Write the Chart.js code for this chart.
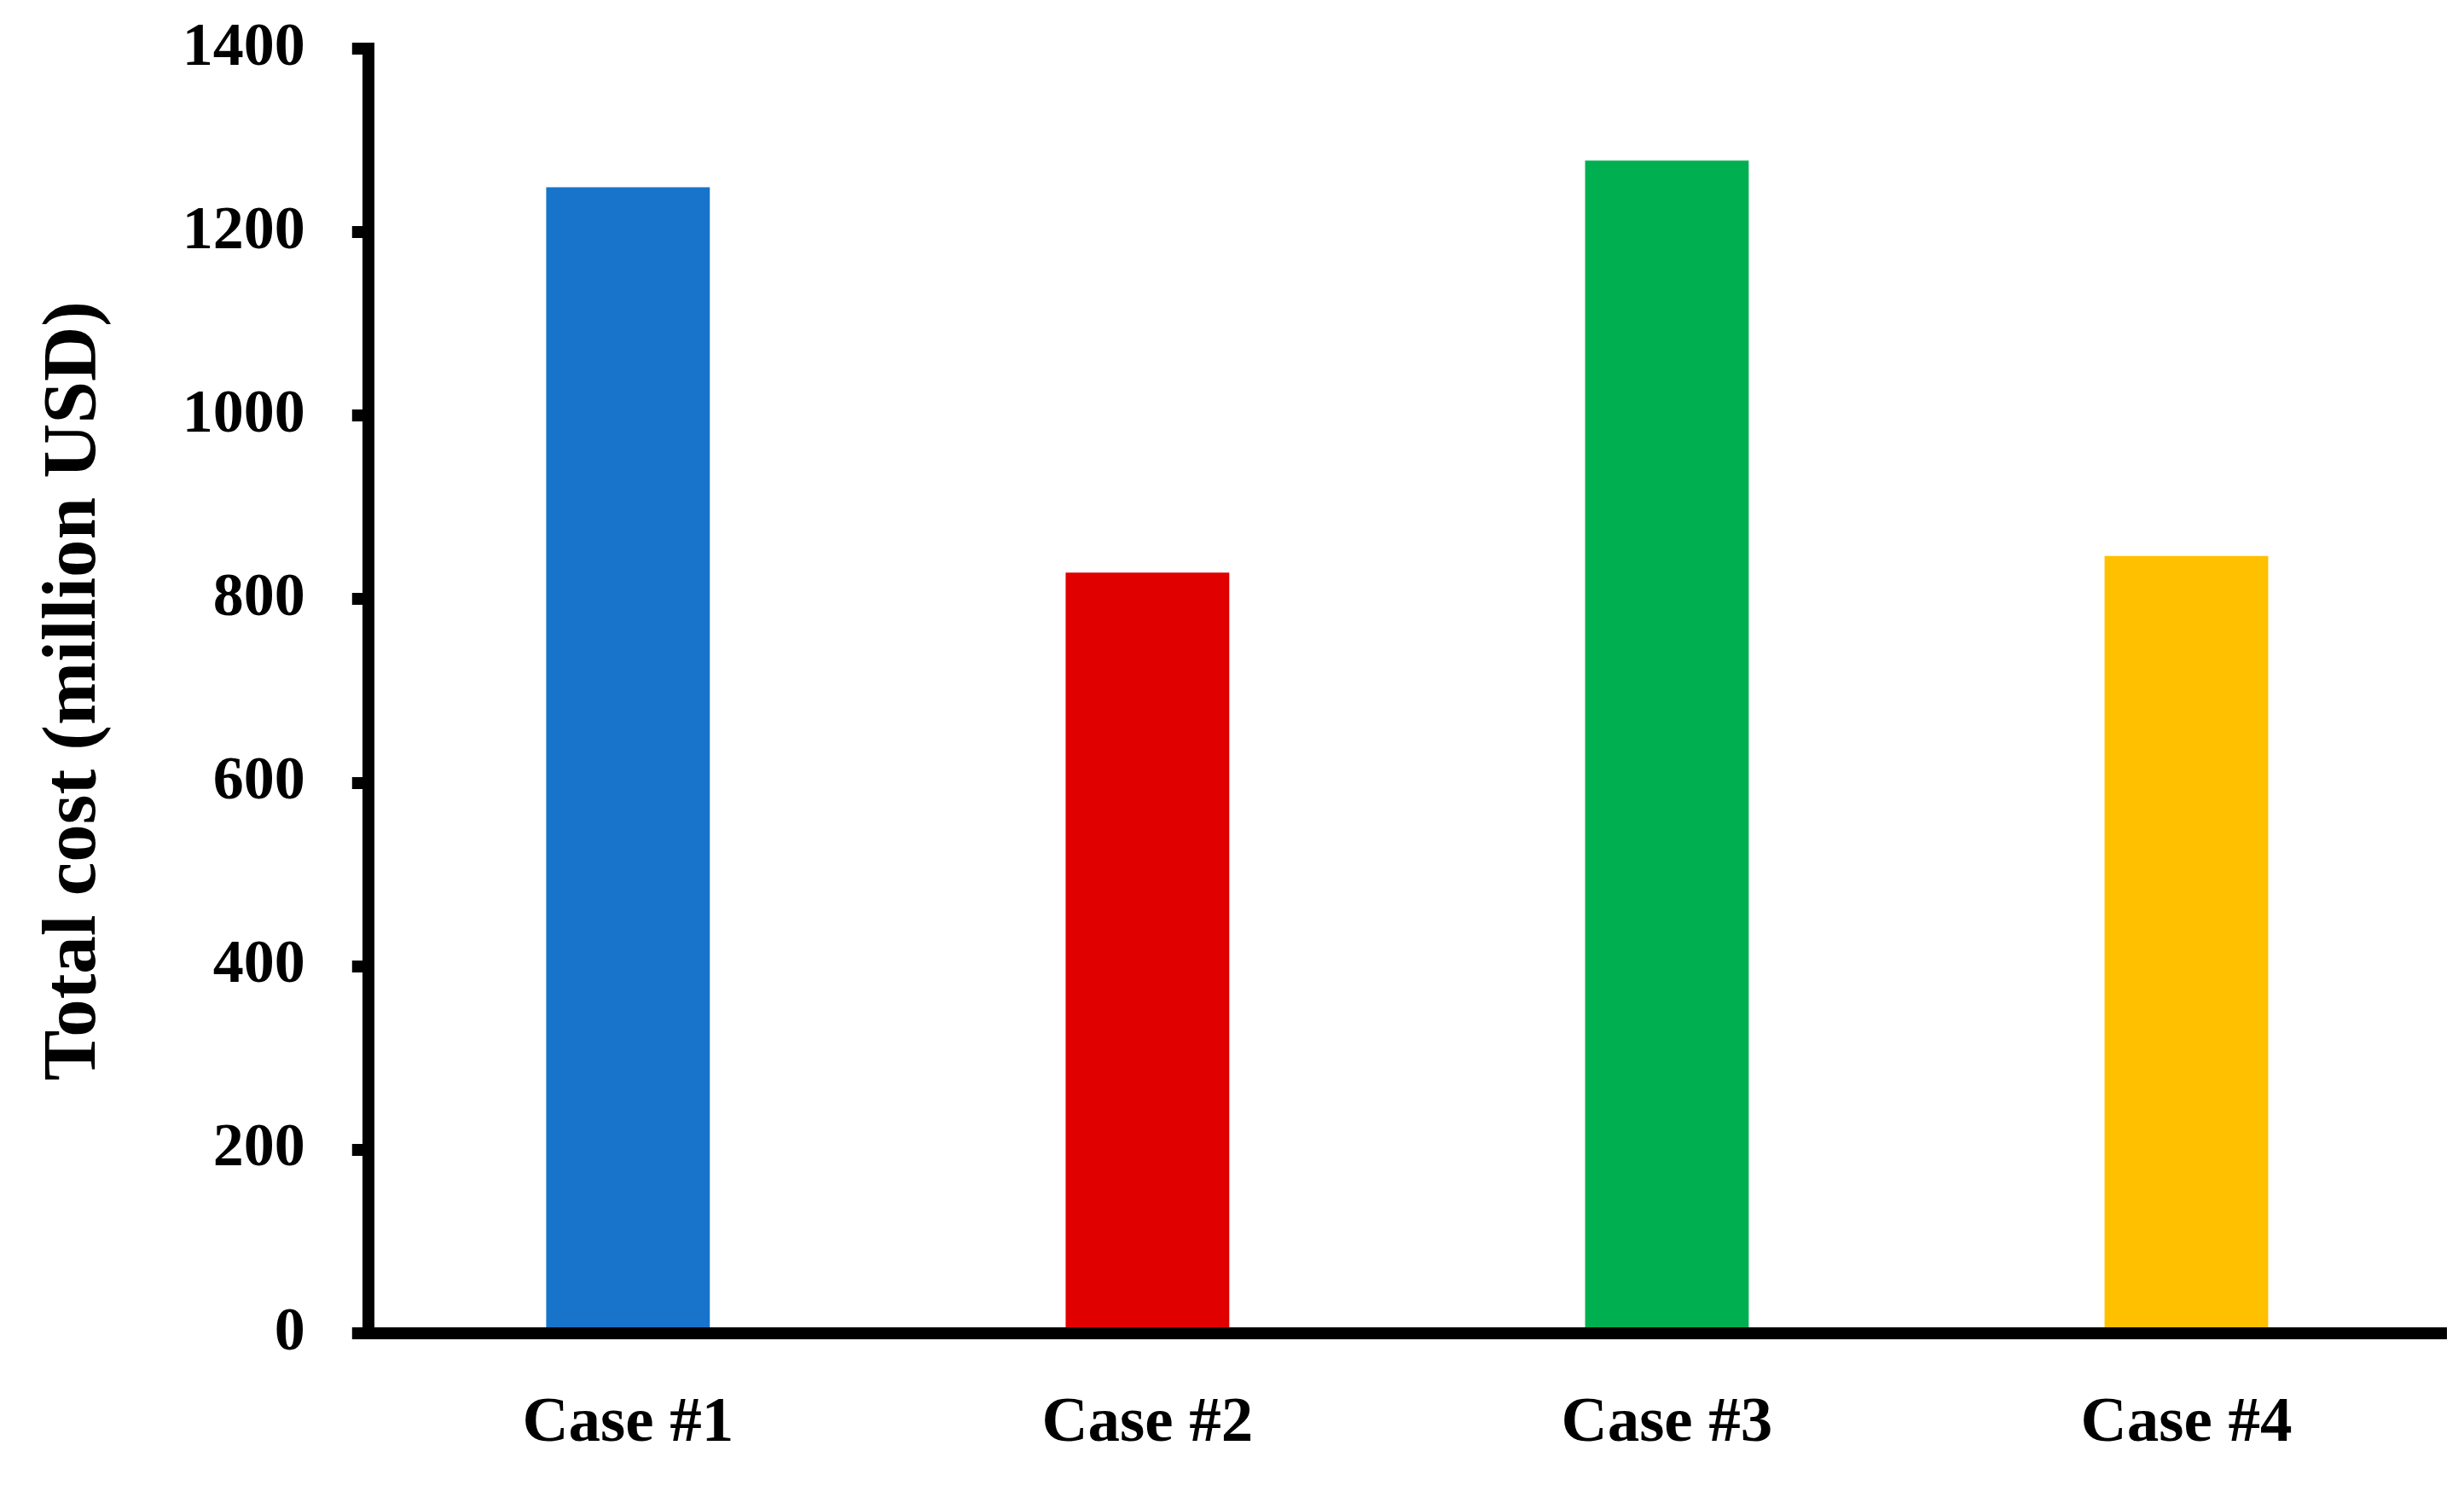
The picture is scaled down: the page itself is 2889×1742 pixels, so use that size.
<!DOCTYPE html>
<html>
<head>
<meta charset="utf-8">
<script src="https://cdn.jsdelivr.net/npm/chart.js@4/dist/chart.umd.min.js"></script>
<style>
	html, body { margin: 0; padding: 0; background: #fff; }
	.chart-wrap { width: 2889px; height: 1742px; }
</style>
</head>
<body>
<div class="chart-wrap"><canvas class="chart-cost"></canvas></div>
<script>
const caseLabels = ["Case #1", "Case #2", "Case #3", "Case #4"];
const totalCost = [1249, 829, 1278, 847];
const barColours = ["#1874CA", "#E00000", "#00B050", "#FFC000"];
const yTicks = [0, 200, 400, 600, 800, 1000, 1200, 1400];

const chartCost = document.querySelector(".chart-cost");

const serif = "'Liberation Serif', 'Times New Roman', serif";

new Chart(chartCost, {
	type: "bar",
	data: {
		labels: caseLabels,
		datasets: [
			{
				label: "Total cost",
				data: totalCost,
				backgroundColor: barColours,
				borderWidth: 0,
				barPercentage: 0.315,
				categoryPercentage: 1,
			},
		],
	},
	options: {
		responsive: true,
		maintainAspectRatio: false,
		animation: false,
		layout: {
			padding: { left: 10, right: 21, top: 57, bottom: -35 },
		},
		plugins: {
			legend: { display: false },
			tooltip: { enabled: false },
		},
		scales: {
			x: {
				grid: { display: false, drawTicks: false },
				border: { display: true, color: "#000", width: 14 },
				ticks: {
					color: "#000",
					padding: 62,
					font: { family: serif, size: 75, weight: "bold" },
				},
			},
			y: {
				min: yTicks[0],
				max: yTicks[yTicks.length - 1],
				afterBuildTicks: (axis) => {
					axis.ticks = yTicks.map((v) => ({ value: v }));
				},
				// no extra room above/below for the first and last tick label
				afterFit: (axis) => {
					axis.paddingTop = 0;
					axis.paddingBottom = 0;
				},
				grid: {
					display: true,
					drawOnChartArea: false,
					drawTicks: true,
					tickLength: 19,
					color: "#000",
					lineWidth: 14,
				},
				border: { display: true, color: "#000", width: 14 },
				ticks: {
					color: "#000",
					padding: 55,
					font: { family: serif, size: 72, weight: "bold" },
					callback: (value) => String(value),
				},
				title: {
					display: true,
					text: "Total cost (million USD)",
					color: "#000",
					padding: { top: 25, bottom: 17 },
					font: { family: serif, size: 89, weight: "bold" },
				},
			},
		},
	},
});
</script>
</body>
</html>
